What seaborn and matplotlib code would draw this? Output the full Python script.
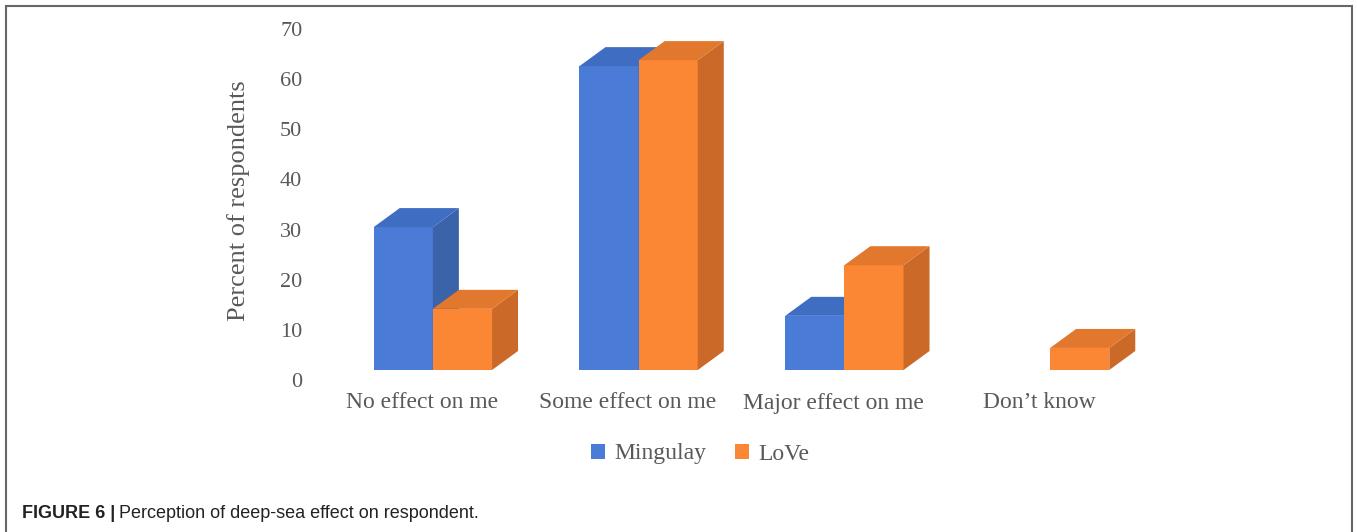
import pandas as pd
import numpy as np
import matplotlib
matplotlib.use('Agg')
import matplotlib.pyplot as plt
import seaborn as sns
from matplotlib.patches import Polygon, Rectangle
from matplotlib.transforms import ScaledTranslation

# data
categories = ['No effect on me', 'Some effect on me', 'Major effect on me', 'Don\u2019t know']
series = ['Mingulay', 'LoVe']
mingulay = [28.5, 60.6, 10.8, 0.0]
love = [12.2, 61.8, 20.9, 4.4]
yticks = [0, 10, 20, 30, 40, 50, 60, 70]

front_cols = {'Mingulay': '#4A7BD6', 'LoVe': '#FB8633'}
top_cols = {'Mingulay': '#3F6DC2', 'LoVe': '#E2772E'}
side_cols = {'Mingulay': '#3A63AA', 'LoVe': '#CB6A28'}
text_col = '#595959'

df = pd.DataFrame({
    'category': categories * 2,
    'series': ['Mingulay'] * len(categories) + ['LoVe'] * len(categories),
    'value': mingulay + love,
})

sns.set_theme(style='white')
plt.rcParams['font.family'] = ['Liberation Serif', 'DejaVu Serif']

fig = plt.figure(figsize=(13.57, 5.32), dpi=100)
ax = fig.add_axes([319 / 1357, 152 / 532, 823 / 1357, 351 / 532])

sns.barplot(data=df, x='category', y='value', hue='series', order=categories,
            hue_order=series, palette=front_cols, width=0.575, saturation=1,
            legend=False, ax=ax, zorder=2)

# pseudo 3D: shift front faces, add top and side faces
off = ScaledTranslation(11 / 100, 10 / 100, fig.dpi_scale_trans)
dx = 26 / 205.75          # depth in data units (x)
dy = 19 / (351 / 70)      # depth in data units (y)
for k, (name, cont) in enumerate(zip(series, ax.containers)):
    for bar in cont:
        bar.set_transform(ax.transData + off)
        bar.set_zorder(2 + k)
        bar.set_edgecolor('none')
        h = bar.get_height()
        if h <= 0:
            bar.set_visible(False)
            continue
        x0 = bar.get_x()
        x1 = x0 + bar.get_width()
        side = Polygon([(x1, 0), (x1 + dx, dy), (x1 + dx, h + dy), (x1, h)],
                       closed=True, facecolor=side_cols[name], edgecolor='none',
                       zorder=2 + k, transform=ax.transData + off)
        top = Polygon([(x0, h), (x0 + dx, h + dy), (x1 + dx, h + dy), (x1, h)],
                      closed=True, facecolor=top_cols[name], edgecolor='none',
                      zorder=2 + k, transform=ax.transData + off)
        ax.add_patch(side)
        ax.add_patch(top)

ax.set_xlim(-0.5, len(categories) - 0.5)
ax.set_ylim(0, 70)
ax.set_yticks(yticks)
ax.set_yticklabels([str(t) for t in yticks])
ax.tick_params(axis='y', length=0, pad=12, labelsize=16, labelcolor=text_col)
ax.tick_params(axis='x', length=0, pad=9, labelsize=17, labelcolor=text_col)
ax.set_xlabel('')
ax.set_ylabel('Percent of respondents', fontsize=19, color=text_col)
ax.yaxis.set_label_coords(-0.084, 0.51)
for sp in ax.spines.values():
    sp.set_visible(False)
ax.grid(False)
ax.set_facecolor('none')

# legend
handles = [Rectangle((0, 0), 1, 1, facecolor=front_cols[s], edgecolor='none') for s in series]
fig.legend(handles, series, loc='center', bbox_to_anchor=(700 / 1357, 1 - 454 / 532),
           ncol=2, frameon=False, fontsize=17, handlelength=0.6, handleheight=0.6,
           handletextpad=0.4, columnspacing=1.2, labelcolor=text_col)

# caption
cap_font = ['Liberation Sans', 'DejaVu Sans']
t1 = fig.text(22 / 1357, 1 - 518 / 532, 'FIGURE 6 |', family=cap_font, fontsize=13,
              fontweight='bold', color='#222222', va='baseline', ha='left')
fig.canvas.draw()
bb = t1.get_window_extent()
fig.text((bb.x1 + 4) / fig.bbox.width, 1 - 518 / 532,
         'Perception of deep-sea effect on respondent.', family=cap_font,
         fontsize=13, color='#222222', va='baseline', ha='left')

# outer frame
fig.add_artist(Rectangle((6 / 1357, -0.05), (1352 - 6) / 1357, 1.05 - 6 / 532,
                         transform=fig.transFigure, fill=False,
                         edgecolor='#666666', linewidth=1.5))

fig.savefig('out.png', dpi=100)
